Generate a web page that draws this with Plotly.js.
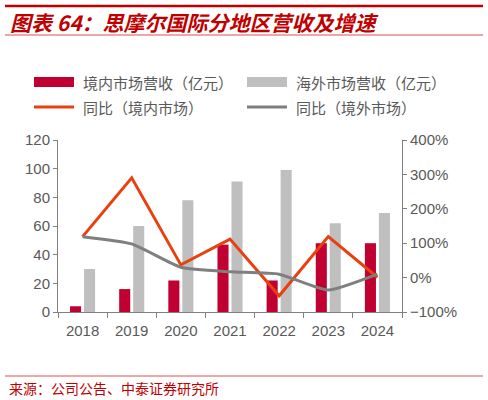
<!DOCTYPE html>
<html>
<head>
<meta charset="utf-8">
<script src="https://cdn.plot.ly/plotly-3.0.1.min.js"></script>
<style>
  html, body { margin: 0; padding: 0; background: #fff; }
  #chart { width: 488px; height: 400px; }
</style>
</head>
<body>
<div id="chart"></div>
<script>
// data
const years = ['2018', '2019', '2020', '2021', '2022', '2023', '2024'];
const domestic = [4, 16, 22, 47, 22, 48, 48];        // 亿元
const overseas = [30, 60, 78, 91, 99, 62, 69];       // 亿元
const domesticYoY = [119, 290, 37, 112, -53, 119, 1]; // %
const overseasYoY = [119, 98, 30, 17, 10, -36, 10];   // %
const names = ['境内市场营收（亿元）', '海外市场营收（亿元）', '同比（境内市场）', '同比（境外市场）'];

const colors = { dom: '#C00030', ovs: '#BFBFBF', domLine: '#E8410F', ovsLine: '#7F7F7F' };
const txt = '#595959';
const cjk = '"Noto Sans CJK SC", sans-serif';

// plot area in pixels, used to place the decorations
const plotL = 58, plotR = 402, plotT = 140, plotB = 312;
const px = x => (x - plotL) / (plotR - plotL);
const py = y => (plotB - y) / (plotB - plotT);

const traces = [
  { x: years, y: domestic, type: 'bar', name: names[0], marker: { color: colors.dom }, showlegend: false },
  { x: years, y: overseas, type: 'bar', name: names[1], marker: { color: colors.ovs }, showlegend: false },
  { x: years, y: domesticYoY, type: 'scatter', mode: 'lines', yaxis: 'y2', name: names[2],
    line: { color: colors.domLine, width: 3 }, showlegend: false },
  { x: years, y: overseasYoY, type: 'scatter', mode: 'lines', yaxis: 'y2', name: names[3],
    line: { color: colors.ovsLine, width: 3, shape: 'spline', smoothing: 0.5 }, showlegend: false }
];

// home-made legend so the swatches are wide boxes like the original
const legendPos = [
  { x0: 34, y: 82, kind: 'box' },
  { x0: 247, y: 82, kind: 'box' },
  { x0: 34, y: 107, kind: 'line' },
  { x0: 247, y: 107, kind: 'line' }
];
const swatchColors = [colors.dom, colors.ovs, colors.domLine, colors.ovsLine];

const shapes = [
  // red rule at the very top
  { type: 'line', xref: 'paper', yref: 'paper', x0: px(5), x1: px(483), y0: py(6), y1: py(6),
    line: { color: '#C00000', width: 2.5 } },
  // thin rule below title
  { type: 'line', xref: 'paper', yref: 'paper', x0: px(5), x1: px(483), y0: py(35), y1: py(35),
    line: { color: '#D9534F', width: 1 } },
  // rule above the source line
  { type: 'line', xref: 'paper', yref: 'paper', x0: px(5), x1: px(483), y0: py(376), y1: py(376),
    line: { color: '#D9534F', width: 1.2 } }
];
const annotations = [
  { text: '<b><i>图表 64：思摩尔国际分地区营收及增速</i></b>', xref: 'paper', yref: 'paper',
    x: px(8), y: py(22), xanchor: 'left', yanchor: 'middle', showarrow: false,
    font: { family: cjk, size: 21, color: '#C00000' } },
  { text: '来源：公司公告、中泰证券研究所', xref: 'paper', yref: 'paper',
    x: px(7), y: py(388), xanchor: 'left', yanchor: 'middle', showarrow: false,
    font: { family: cjk, size: 14, color: '#C00000' } }
];

legendPos.forEach((p, i) => {
  if (p.kind === 'box') {
    shapes.push({ type: 'rect', xref: 'paper', yref: 'paper', x0: px(p.x0), x1: px(p.x0 + 40),
      y0: py(p.y - 5), y1: py(p.y + 5), fillcolor: swatchColors[i], line: { width: 0 } });
  } else {
    shapes.push({ type: 'line', xref: 'paper', yref: 'paper', x0: px(p.x0), x1: px(p.x0 + 40),
      y0: py(p.y), y1: py(p.y), line: { color: swatchColors[i], width: 3 } });
  }
  annotations.push({ text: names[i], xref: 'paper', yref: 'paper', x: px(p.x0 + 47), y: py(p.y),
    xanchor: 'left', yanchor: 'middle', showarrow: false,
    font: { family: cjk, size: 15, color: txt } });
});

const axisFont = { family: '"Liberation Sans", Arial, sans-serif', size: 15, color: txt };

const layout = {
  width: 488, height: 400,
  margin: { l: plotL, r: 488 - plotR, t: plotT, b: 400 - plotB, pad: 0 },
  paper_bgcolor: '#fff', plot_bgcolor: '#fff',
  barmode: 'group', bargap: 0.43, bargroupgap: 0.21,
  showlegend: false,
  xaxis: {
    type: 'category', showline: true, linecolor: '#808080', linewidth: 1,
    ticks: 'outside', tickson: 'boundaries', ticklen: 5, tickcolor: '#808080',
    ticklabelstandoff: 5,
    tickfont: axisFont, showgrid: false, zeroline: false, fixedrange: true
  },
  yaxis: {
    range: [0, 120], dtick: 20, showline: true, linecolor: '#808080', linewidth: 1,
    ticks: 'outside', ticklen: 4, tickcolor: '#808080', tickfont: axisFont,
    showgrid: false, zeroline: false, fixedrange: true
  },
  yaxis2: {
    overlaying: 'y', side: 'right', range: [-100, 400], dtick: 100, ticksuffix: '%',
    showline: true, linecolor: '#808080', linewidth: 1,
    ticks: 'outside', ticklen: 4, tickcolor: '#808080', tickfont: axisFont,
    showgrid: false, zeroline: false, fixedrange: true
  },
  shapes: shapes,
  annotations: annotations
};

Plotly.newPlot('chart', traces, layout, { displayModeBar: false, staticPlot: true });
</script>
</body>
</html>
